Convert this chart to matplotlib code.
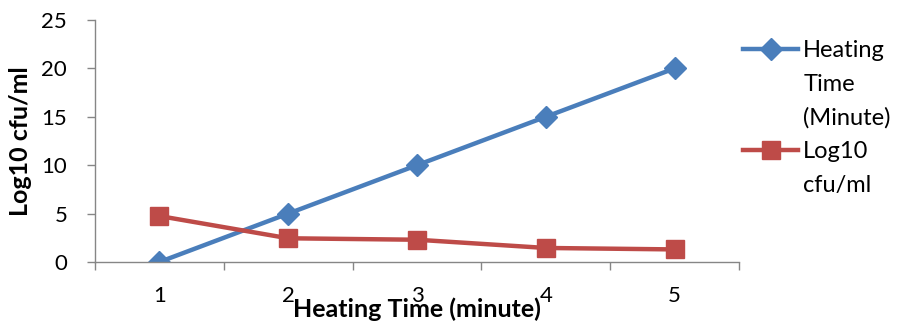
import matplotlib
matplotlib.use("Agg")
import matplotlib.pyplot as plt
from matplotlib.lines import Line2D

categories = [1, 2, 3, 4, 5]
heating_time = [0, 5, 10, 15, 20]
log10_cfu = [4.75, 2.45, 2.3, 1.45, 1.3]
y_ticks = [0, 5, 10, 15, 20, 25]
series_labels = [["Heating", "Time", "(Minute)"], ["Log10", "cfu/ml"]]

plt.rcParams['font.family'] = ['Lato', 'DejaVu Sans']
FS_TICK = 16
FS_LEG = 17
FS_LAB = 18

fig = plt.figure(figsize=(8.99, 3.23), dpi=100)
ax = fig.add_axes([95/899, 1-262/323, (739-95)/899, (262-20)/323])

blue = '#4A7EBB'
red = '#BE4B48'
x = list(range(len(categories)))
l1, = ax.plot(x, heating_time, color=blue, lw=3.2, marker='D', ms=11,
              markeredgecolor=blue)
l2, = ax.plot(x, log10_cfu, color=red, lw=3.2, marker='s', ms=13,
              markeredgecolor=red)

ax.set_xlim(-0.5, len(categories) - 0.5)
ax.set_ylim(0, 25)
ax.set_yticks(y_ticks)
ax.set_yticklabels([str(v) for v in y_ticks], fontsize=FS_TICK)
ax.set_xticks(x)
ax.set_xticklabels([str(c) for c in categories], fontsize=FS_TICK)
ax.set_xticks([i - 0.5 for i in range(len(categories) + 1)], minor=True)
ax.tick_params(axis='x', which='major', length=0, pad=17)
ax.tick_params(axis='x', which='minor', length=6, width=1, color='#868686', direction='out')
ax.tick_params(axis='y', length=6, width=1, color='#868686', pad=14)

for s in ['top', 'right']:
    ax.spines[s].set_visible(False)
for s in ['left', 'bottom']:
    ax.spines[s].set_color('#868686')
    ax.spines[s].set_linewidth(1)

ax.set_xlabel("Heating Time (minute)", fontsize=FS_LAB, fontweight='bold')
ax.xaxis.set_label_coords(0.5, -0.145)
ax.xaxis.label.set_va('top')
ax.set_ylabel("Log10 cfu/ml", fontsize=FS_LAB, fontweight='bold')
ax.yaxis.set_label_coords(-0.116, 0.5)
ax.yaxis.label.set_va('center')

# legend: each wrapped line as its own row, handle beside the first line
blank = Line2D([], [], color='none')
handles, labels = [], []
for line, parts in zip([l1, l2], series_labels):
    for i, p in enumerate(parts):
        handles.append(line if i == 0 else blank)
        labels.append(p)

leg = fig.legend(handles=handles, labels=labels, loc='upper left',
                 bbox_to_anchor=(743/899, 1-40/323),
                 frameon=False, fontsize=FS_LEG, handlelength=2.35, handletextpad=0.2,
                 labelspacing=0.53, borderaxespad=0, borderpad=0)

fig.savefig("out.png", dpi=100)
